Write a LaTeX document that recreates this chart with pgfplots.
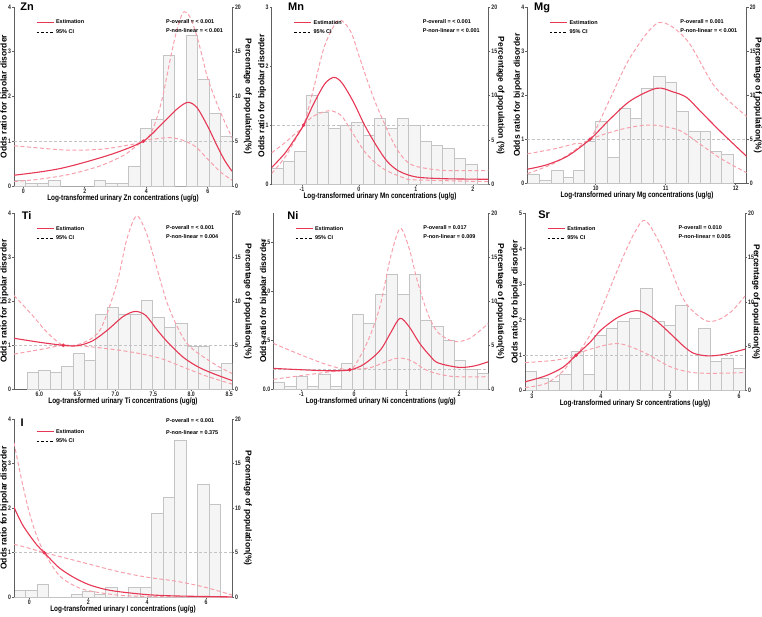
\documentclass[border=0pt]{standalone}
\usepackage{fontspec}
\setmainfont{Liberation Sans}
\newfontfamily\narrowfont{Liberation Sans}[FakeStretch=0.8]
\usepackage{pgfplots}
\pgfplotsset{compat=1.18}

\definecolor{estred}{RGB}{230,55,85}
\definecolor{cipink}{RGB}{247,160,172}
\definecolor{histfill}{RGB}{245,245,245}
\definecolor{histdraw}{RGB}{196,196,196}
\definecolor{axgray}{RGB}{95,95,95}
\definecolor{refgray}{RGB}{195,195,195}

\newcommand\tickfont{\narrowfont\bfseries\fontsize{6.5}{7}\selectfont}
\newcommand\xlabfont{\narrowfont\bfseries\fontsize{8}{9}\selectfont}
\newcommand\ylabfont{\bfseries\fontsize{8.5}{9}\selectfont}
\newcommand\legfont{\bfseries\fontsize{5.5}{6}\selectfont}
\newcommand\titfont{\bfseries\fontsize{11}{12}\selectfont}

\pgfplotsset{
 panel/.style={scale only axis, anchor=south west,
   /pgf/number format/assume math mode=true,
   tick label style={font=\tickfont, text=black!85, inner sep=0.9pt},
   axis line style={draw=axgray, line width=0.9pt},
   tick style={draw=axgray, line width=0.6pt},
   tick align=outside, major tick length=2pt},
 histax/.style={panel, axis y line*=right, axis x line*=bottom,
   x axis line style={-}, y axis line style={-},
   ymin=0, ymax=20, ytick={0,5,10,15,20},
   ylabel style={font=\ylabfont, rotate=180, at={(axis description cs:1.073,0.5)}, anchor=center},
   xlabel style={font=\xlabfont, at={(axis description cs:0.5,0)}, anchor=center, yshift=-12.5pt},
   ylabel={Percentage of population(\%)}},
 midcol/.style={ylabel style={at={(axis description cs:1.056,0.5)}}},
 rightcol/.style={ylabel style={at={(axis description cs:1.05,0.5)}}},
 curveax/.style={panel, axis y line*=left, axis x line=none, y axis line style={-},
   clip mode=individual, ylabel={Odds ratio for bipolar disorder},
   ylabel style={font=\ylabfont, at={(axis description cs:-0.044,0.5)}, anchor=center},
   legend style={at={(axis description cs:0.1,0.94)}, anchor=north west, draw=none,
     fill=none, font=\legfont, inner sep=0pt, row sep=0pt},
   legend cell align=left},
 hbar/.style={ybar interval, fill=histfill, draw=histdraw, line width=0.7pt},
 est/.style={estred, line width=1.1pt, smooth, forget plot},
 ci/.style={cipink, line width=1pt, dash pattern=on 4pt off 2.5pt, smooth, forget plot},
 refl/.style={refgray, line width=0.7pt, dash pattern=on 3pt off 2pt, forget plot},
 refdot/.style={only marks, mark=*, mark size=1.6pt, estred, forget plot},
}
\newcommand\leg{%
 \addlegendimage{estred, line width=1pt}\addlegendentry{Estimation}
 \addlegendimage{black, line width=0.8pt, dash pattern=on 2.5pt off 2pt}\addlegendentry{95\% CI}}
\newcommand\pval[2]{%
 \node[anchor=west, font=\legfont, inner sep=0pt] at (axis description cs:0.697,0.918) {#1};
 \node[anchor=west, font=\legfont, inner sep=0pt] at (axis description cs:0.697,0.868) {#2};}

\begin{document}
\begin{tikzpicture}
\path[use as bounding box] (0,0) rectangle (762pt,-616pt);

%%%%%%%%%%%%%%%% Zn
\begin{axis}[histax, at={(14pt,-186pt)}, width=218pt, height=179pt,
  xmin=-0.3, xmax=6.787, xtick={0,2,4,6},
  xlabel={Log-transformed urinary Zn concentrations (ug/g)}]
\addplot[hbar] coordinates {(-0.3,0.63) (0.073,0.34) (0.446,0.34) (0.819,0.67) (1.192,0) (1.565,0) (1.938,0) (2.311,0.67) (2.684,0.34) (3.057,0.34) (3.43,2.2) (3.803,6.4) (4.176,7.5) (4.549,14.6) (4.922,0) (5.295,16.8) (5.668,11.9) (6.041,8.1) (6.414,5.6) (6.787,0)};
\end{axis}
\begin{axis}[curveax, at={(14pt,-186pt)}, width=218pt, height=179pt,
  xmin=-0.3, xmax=6.787, ymin=0, ymax=4, ytick={0,1,2,3,4}]
\leg
\addplot[refl] coordinates {(-0.3,1) (6.787,1)};
\addplot[ci] coordinates {(-0.3,0.9) (0.5,0.85) (1.5,0.8) (2.5,0.82) (3.3,0.9) (3.9,1.0) (4.2,1.25) (4.5,1.9) (4.8,2.9) (5.0,3.5) (5.2,3.88) (5.4,3.8) (5.6,3.45) (5.8,2.95) (6.0,2.4) (6.38,1.7) (6.787,1.08)};
\addplot[ci] coordinates {(-0.3,0.1) (0.5,0.15) (1.5,0.26) (2.5,0.45) (3.3,0.7) (3.9,1.0) (4.4,1.06) (4.8,1.08) (5.2,1.02) (5.6,0.88) (6.0,0.6) (6.4,0.32) (6.787,0.13)};
\addplot[est] coordinates {(-0.3,0.24) (0.5,0.31) (1.2,0.39) (2.0,0.53) (3.0,0.74) (3.9,1.0) (4.5,1.38) (5.0,1.72) (5.35,1.87) (5.65,1.75) (6.0,1.33) (6.3,0.9) (6.55,0.57) (6.787,0.33)};
\addplot[refdot] coordinates {(3.9,1)};
\node[anchor=north west, font=\titfont, inner sep=0pt, yshift=4.3pt] at (axis description cs:0.028,1) {Zn};
\pval{P-overall = < 0.001}{P-non-linear = < 0.001}
\end{axis}

%%%%%%%%%%%%%%%% Mn
\begin{axis}[histax, midcol, at={(271.7pt,-184pt)}, width=216.6pt, height=176.7pt,
  xmin=-1.53, xmax=2.27, xtick={-1,0,1,2},
  ylabel={Percentage of population (\%)},
  xlabel={Log-transformed urinary Mn concentrations (ug/g)}]
\addplot[hbar] coordinates {(-1.53,1.77) (-1.33,2.53) (-1.13,3.66) (-0.93,10.0) (-0.73,8.1) (-0.53,6.3) (-0.33,6.6) (-0.13,7.0) (0.07,5.5) (0.27,7.4) (0.47,6.3) (0.67,7.4) (0.87,6.6) (1.07,4.8) (1.27,4.4) (1.47,4.0) (1.67,2.9) (1.87,2.2) (2.07,0) (2.27,0)};
\end{axis}
\begin{axis}[curveax, at={(271.7pt,-184pt)}, width=216.6pt, height=176.7pt,
  xmin=-1.53, xmax=2.27, ymin=0, ymax=3, ytick={0,1,2,3}]
\leg
\addplot[refl] coordinates {(-1.53,1) (2.27,1)};
\addplot[ci] coordinates {(-1.53,0.53) (-1.3,0.7) (-1.1,0.87) (-0.97,1.0) (-0.8,1.6) (-0.6,2.35) (-0.36,2.78) (-0.15,2.6) (0,2.18) (0.15,1.75) (0.32,1.31) (0.61,0.69) (0.8,0.42) (1.0,0.3) (1.5,0.23) (2.27,0.23)};
\addplot[ci] coordinates {(-1.53,0.18) (-1.3,0.45) (-1.1,0.78) (-0.97,1.0) (-0.8,1.15) (-0.6,1.23) (-0.47,1.24) (-0.3,1.15) (-0.1,0.85) (0.1,0.55) (0.3,0.35) (0.5,0.22) (0.8,0.1) (1.0,0.07) (2.27,0.04)};
\addplot[est] coordinates {(-1.53,0.28) (-1.3,0.52) (-1.1,0.8) (-0.97,1.0) (-0.8,1.35) (-0.6,1.7) (-0.44,1.81) (-0.3,1.72) (-0.1,1.4) (0.1,1.0) (0.32,0.63) (0.5,0.38) (0.7,0.22) (1.0,0.12) (1.5,0.09) (2.27,0.08)};
\addplot[refdot] coordinates {(-0.97,1)};
\node[anchor=north west, font=\titfont, inner sep=0pt, yshift=4.6pt] at (axis description cs:0.075,1) {Mn};
\pval{P-overall = < 0.001}{P-non-linear = < 0.001}
\end{axis}

%%%%%%%%%%%%%%%% Mg
\begin{axis}[histax, rightcol, at={(527.3pt,-183.3pt)}, width=219.4pt, height=176pt,
  xmin=9.024, xmax=12.157, xtick={10,11,12},
  xlabel={Log-transformed urinary Mg concentrations (ug/g)}]
\addplot[hbar] coordinates {(9.024,1.06) (9.195,0.38) (9.362,1.44) (9.533,0.68) (9.681,1.44) (9.838,4.73) (10.0,7.0) (10.167,2.95) (10.333,8.52) (10.5,7.39) (10.657,10.8) (10.824,12.2) (10.99,11.5) (11.157,8.14) (11.324,5.87) (11.49,5.87) (11.643,3.6) (11.8,3.3) (11.967,0)};
\end{axis}
\begin{axis}[curveax, at={(527.3pt,-183.3pt)}, width=219.4pt, height=176pt,
  xmin=9.024, xmax=12.157, ymin=0, ymax=4, ytick={0,1,2,3,4}]
\leg
\addplot[refl] coordinates {(9.024,1) (12.157,1)};
\addplot[ci] coordinates {(9.024,0.67) (9.4,0.78) (9.7,0.9) (9.92,1.0) (10.2,1.9) (10.5,2.88) (10.9,3.65) (11.3,3.26) (11.7,2.2) (12.157,1.52)};
\addplot[ci] coordinates {(9.024,0.22) (9.4,0.45) (9.7,0.75) (9.92,1.0) (10.3,1.2) (10.6,1.3) (10.85,1.32) (11.2,1.2) (11.5,0.88) (11.8,0.55) (12.157,0.24)};
\addplot[est] coordinates {(9.024,0.32) (9.3,0.42) (9.6,0.62) (9.92,1.0) (10.2,1.45) (10.5,1.88) (10.87,2.16) (11.1,2.08) (11.3,1.95) (11.5,1.63) (11.8,1.15) (12.157,0.61)};
\addplot[refdot] coordinates {(9.92,1)};
\node[anchor=north west, font=\titfont, inner sep=0pt, yshift=4.6pt] at (axis description cs:0.03,1) {Mg};
\pval{P-overall = 0.001}{P-non-linear = < 0.001}
\end{axis}

%%%%%%%%%%%%%%%% Ti
\begin{axis}[histax, at={(14pt,-389.3pt)}, width=218pt, height=176pt,
  xmin=5.667, xmax=8.536, xtick={6,6.5,7,7.5,8,8.5},
  xticklabel style={/pgf/number format/.cd, fixed, fixed zerofill, precision=1},
  xlabel={Log-transformed urinary Ti concentrations (ug/g)}]
\addplot[hbar] coordinates {(5.842,1.89) (5.992,2.2) (6.142,1.89) (6.292,2.58) (6.442,4.09) (6.592,3.33) (6.742,8.56) (6.892,9.32) (7.042,8.56) (7.192,8.56) (7.342,10.08) (7.492,8.18) (7.642,7.05) (7.792,7.5) (7.942,4.85) (8.092,4.85) (8.242,2.2) (8.392,2.95) (8.542,0)};
\end{axis}
\begin{axis}[curveax, at={(14pt,-389.3pt)}, width=218pt, height=176pt,
  xmin=5.667, xmax=8.536, ymin=0, ymax=4, ytick={0,1,2,3,4}]
\leg
\addplot[refl] coordinates {(5.667,1) (8.536,1)};
\addplot[ci] coordinates {(5.667,2.13) (5.9,1.7) (6.1,1.3) (6.316,1.0) (6.55,1.04) (6.8,1.35) (7.02,2.4) (7.15,3.4) (7.28,3.94) (7.41,3.55) (7.54,2.8) (7.7,1.88) (7.94,1.05) (8.29,0.59) (8.536,0.36)};
\addplot[ci] coordinates {(5.667,0.8) (6.0,0.9) (6.316,1.0) (6.6,0.98) (7.0,0.9) (7.3,0.82) (7.6,0.7) (7.9,0.5) (8.2,0.3) (8.536,0.12)};
\addplot[est] coordinates {(5.667,1.16) (6.0,1.07) (6.316,1.0) (6.5,0.99) (6.7,1.1) (6.9,1.35) (7.1,1.65) (7.26,1.77) (7.4,1.68) (7.55,1.35) (7.7,1.05) (7.9,0.72) (8.1,0.5) (8.3,0.35) (8.536,0.2)};
\addplot[refdot] coordinates {(6.316,1)};
\node[anchor=north west, font=\titfont, inner sep=0pt, yshift=1.6pt] at (axis description cs:0.035,1) {Ti};
\pval{P-overall = < 0.001}{P-non-linear = 0.004}
\end{axis}

%%%%%%%%%%%%%%%% Ni
\begin{axis}[histax, midcol, at={(273.3pt,-389.3pt)}, width=215pt, height=176pt,
  xmin=-1.535, xmax=2.556, xtick={-1,0,1,2},
  xlabel={Log-transformed urinary Ni concentrations (ug/g)}]
\addplot[hbar] coordinates {(-1.535,0.76) (-1.320,0.3) (-1.104,1.44) (-0.889,0.3) (-0.674,1.74) (-0.459,0.3) (-0.243,2.95) (-0.028,8.56) (0.187,7.5) (0.403,10.76) (0.618,13.1) (0.833,10.76) (1.049,13.1) (1.264,7.88) (1.479,7.12) (1.695,5.53) (1.910,3.33) (2.125,2.27) (2.341,1.82) (2.556,0)};
\end{axis}
\begin{axis}[curveax, at={(273.3pt,-389.3pt)}, width=215pt, height=176pt,
  xmin=-1.535, xmax=2.556, ymin=0, ymax=9, ytick={0,2.5,5,7.5},
  yticklabel style={/pgf/number format/.cd, fixed, fixed zerofill, precision=1}]
\leg
\addplot[refl] coordinates {(-1.535,1) (2.556,1)};
\addplot[ci] coordinates {(-1.535,2.35) (-1.0,1.75) (-0.5,1.25) (-0.08,1.0) (0.1,1.6) (0.3,2.7) (0.5,4.3) (0.7,6.8) (0.88,8.23) (1.05,7.2) (1.2,5.6) (1.4,3.9) (1.6,2.9) (1.9,2.45) (2.2,2.6) (2.556,3.37)};
\addplot[ci] coordinates {(-1.535,0.51) (-1.0,0.7) (-0.5,0.88) (-0.08,1.0) (0.3,1.1) (0.6,1.4) (0.85,1.6) (1.1,1.45) (1.4,0.95) (1.8,0.68) (2.2,0.63) (2.556,0.65)};
\addplot[est] coordinates {(-1.535,1.07) (-1.0,1.0) (-0.5,0.95) (-0.08,0.99) (0.2,1.3) (0.5,2.0) (0.7,2.9) (0.875,3.63) (1.05,3.2) (1.25,2.35) (1.45,1.7) (1.6,1.35) (2.0,1.12) (2.3,1.2) (2.556,1.41)};
\addplot[refdot] coordinates {(-0.08,1)};
\node[anchor=north west, font=\titfont, inner sep=0pt, yshift=1.6pt] at (axis description cs:0.065,1) {Ni};
\pval{P-overall = 0.017}{P-non-linear = 0.009}
\end{axis}

%%%%%%%%%%%%%%%% Sr
\begin{axis}[histax, rightcol, at={(525pt,-390.7pt)}, width=220pt, height=177.4pt,
  xmin=2.9, xmax=6.087, xtick={3,4,5,6},
  xlabel={Log-transformed urinary Sr concentrations (ug/g)}]
\addplot[hbar] coordinates {(2.900,2.14) (3.068,1.39) (3.235,1.02) (3.403,1.88) (3.571,4.4) (3.739,1.88) (3.906,6.28) (4.074,7.03) (4.242,7.78) (4.409,8.16) (4.577,11.54) (4.745,7.78) (4.912,7.4) (5.080,9.66) (5.248,0) (5.416,7.03) (5.583,3.27) (5.751,3.65) (5.919,2.52) (6.087,0)};
\end{axis}
\begin{axis}[curveax, at={(525pt,-390.7pt)}, width=220pt, height=177.4pt,
  xmin=2.9, xmax=6.087, ymin=0, ymax=5, ytick={0,1,2,3,4,5}]
\leg
\addplot[refl] coordinates {(2.9,1) (6.087,1)};
\addplot[ci] coordinates {(2.9,0.79) (3.3,0.85) (3.5,0.92) (3.64,1.0) (3.85,1.6) (4.0,2.27) (4.3,3.68) (4.5,4.5) (4.65,4.79) (4.9,3.97) (5.2,2.56) (5.5,1.99) (5.7,2.0) (5.9,2.25) (6.087,2.67)};
\addplot[ci] coordinates {(2.9,0.09) (3.2,0.2) (3.45,0.55) (3.64,1.0) (3.9,1.2) (4.25,1.33) (4.6,1.1) (5.0,0.68) (5.3,0.52) (5.6,0.49) (6.087,0.51)};
\addplot[est] coordinates {(2.9,0.25) (3.2,0.42) (3.45,0.66) (3.64,1.0) (3.85,1.38) (4.0,1.71) (4.25,2.07) (4.52,2.26) (4.75,2.05) (5.0,1.62) (5.2,1.25) (5.35,1.05) (5.56,0.98) (5.8,1.03) (6.087,1.17)};
\addplot[refdot] coordinates {(3.64,1)};
\node[anchor=north west, font=\titfont, inner sep=0pt, yshift=2.3pt] at (axis description cs:0.06,1) {Sr};
\pval{P-overall = 0.010}{P-non-linear = 0.005}
\end{axis}

%%%%%%%%%%%%%%%% I
\begin{axis}[histax, at={(14pt,-597.3pt)}, width=218pt, height=178.3pt,
  xmin=-0.52, xmax=6.881, xtick={0,2,4,6},
  xlabel={Log-transformed urinary I concentrations (ug/g)}]
\addplot[hbar] coordinates {(-0.520,0.79) (-0.131,0.79) (0.259,1.46) (0.649,0) (1.038,0) (1.428,0.34) (1.817,0.71) (2.207,0.34) (2.596,1.08) (2.986,0) (3.375,1.08) (3.765,1.08) (4.154,9.42) (4.544,11.2) (4.933,17.57) (5.323,0) (5.712,12.7) (6.102,10.47) (6.491,0) (6.881,0)};
\end{axis}
\begin{axis}[curveax, at={(14pt,-597.3pt)}, width=218pt, height=178.3pt,
  xmin=-0.52, xmax=6.881, ymin=0, ymax=4, ytick={0,1,2,3,4},
  legend style={at={(axis description cs:0.1,0.955)}}]
\leg
\addplot[refl] coordinates {(-0.52,1) (6.881,1)};
\addplot[ci] coordinates {(-0.52,1.19) (0,1.1) (0.51,1.0) (1,0.92) (2,0.75) (3,0.58) (4,0.45) (5,0.36) (6,0.22) (6.881,0.05)};
\addplot[ci] coordinates {(-0.52,3.47) (-0.25,2.6) (0,1.9) (0.25,1.38) (0.51,1.0) (1,0.5) (1.5,0.27) (2,0.15) (3,0.05) (4,0.02) (6.881,0.0)};
\addplot[est] coordinates {(-0.52,2.02) (-0.25,1.65) (0,1.4) (0.25,1.18) (0.51,1.0) (1,0.67) (1.5,0.45) (2,0.29) (2.5,0.19) (3,0.13) (4,0.06) (5,0.03) (6.881,0.01)};
\addplot[refdot] coordinates {(0.51,1)};
\node[anchor=north west, font=\titfont, inner sep=0pt] at (axis description cs:0.03,1) {I};
\node[anchor=west, font=\legfont, inner sep=0pt] at (axis description cs:0.697,0.989) {P-overall = < 0.001};
\node[anchor=west, font=\legfont, inner sep=0pt] at (axis description cs:0.697,0.925) {P-non-linear = 0.375};
\end{axis}
\end{tikzpicture}
\end{document}
